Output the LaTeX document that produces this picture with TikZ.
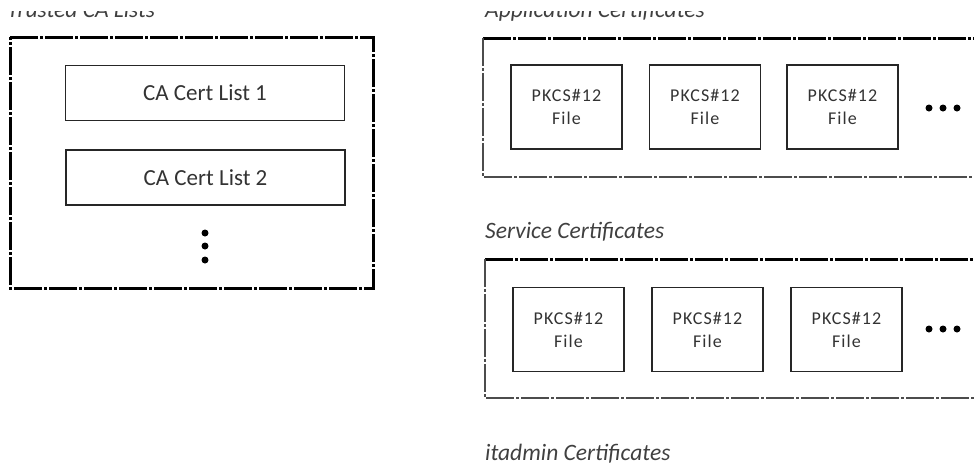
\documentclass[tikz,border=0pt]{standalone}
\usepackage{fontspec}
\setmainfont{Carlito}
\newfontfamily\pkfont[LetterSpace=6]{Carlito}
\begin{document}
\begin{tikzpicture}[x=1pt,y=-1pt,
  inbox/.style={draw=black!85,line width=1.3pt,fill=white,inner sep=0pt},
  calist/.style={inbox,minimum width=279pt,minimum height=55pt,font=\fontsize{23}{26}\selectfont,text=black!80},
  pkbox/.style={inbox,minimum width=111pt,minimum height=84pt,align=center,font=\pkfont\fontsize{18}{23}\selectfont,text=black!80},
  title/.style={anchor=base west,inner sep=0pt,font=\itshape\fontsize{23.5}{26}\selectfont,text=black!75},
  thickdd/.style={line width=3pt,black,dash pattern=on 28pt off 2pt on 3pt off 2pt},
  thindd/.style={line width=1.4pt,black!70,dash pattern=on 28pt off 2pt on 3pt off 2pt},
  dot/.style={circle,fill=black,inner sep=0pt,minimum size=7pt}]
\useasboundingbox (0,0) rectangle (974,467);
\clip (0,0) rectangle (974,467);
% clipped top titles
\begin{scope}
\clip (0,11) rectangle (974,30);
\node[title] (t1) at (7,17) {Trusted CA Lists};
\node[title] (t2) at (485,17) {Application Certificates};
\end{scope}
% left outer box
\coordinate (L1) at (10,37);
\coordinate (L2) at (373,37);
\coordinate (L3) at (373,288);
\coordinate (L4) at (10,288);
\draw[thickdd] (L1) -- (L2) -- (L3) -- (L4) -- cycle;
\node[calist] (c1) at (205,93) {CA Cert List 1};
\node[calist] (c2) at (205.5,177.5) {CA Cert List 2};
\node[dot] (v1) at (205,233) {};
\node[dot] (v2) at (205,246) {};
\node[dot] (v3) at (205,260) {};
% application box
\coordinate (A1) at (483,38);
\coordinate (A2) at (990,38);
\coordinate (A3) at (990,177);
\coordinate (A4) at (483,177);
\draw[thickdd] (A1) -- (A2);
\draw[thindd] (A1) -- (A4) -- (A3);
\node[pkbox] (a1) at (566.5,107) {PKCS\#12\\File};
\node[pkbox] (a2) at (705,107) {PKCS\#12\\File};
\node[pkbox] (a3) at (842.5,107) {PKCS\#12\\File};
\node[dot] (h1) at (929,108) {};
\node[dot] (h2) at (943,108) {};
\node[dot] (h3) at (957,108) {};
% service
\node[title] (t3) at (485,238) {Service Certificates};
\coordinate (S1) at (485,259);
\coordinate (S2) at (990,259);
\coordinate (S3) at (990,398);
\coordinate (S4) at (485,398);
\draw[thickdd] (S1) -- (S2);
\draw[thindd] (S1) -- (S4) -- (S3);
\node[pkbox] (s1) at (568.5,329.5) {PKCS\#12\\File};
\node[pkbox] (s2) at (707.5,329.5) {PKCS\#12\\File};
\node[pkbox] (s3) at (846.5,329.5) {PKCS\#12\\File};
\node[dot] (k1) at (929,329) {};
\node[dot] (k2) at (943,329) {};
\node[dot] (k3) at (957,329) {};
% itadmin
\node[title] (t4) at (485,460) {itadmin Certificates};
\end{tikzpicture}
\end{document}
